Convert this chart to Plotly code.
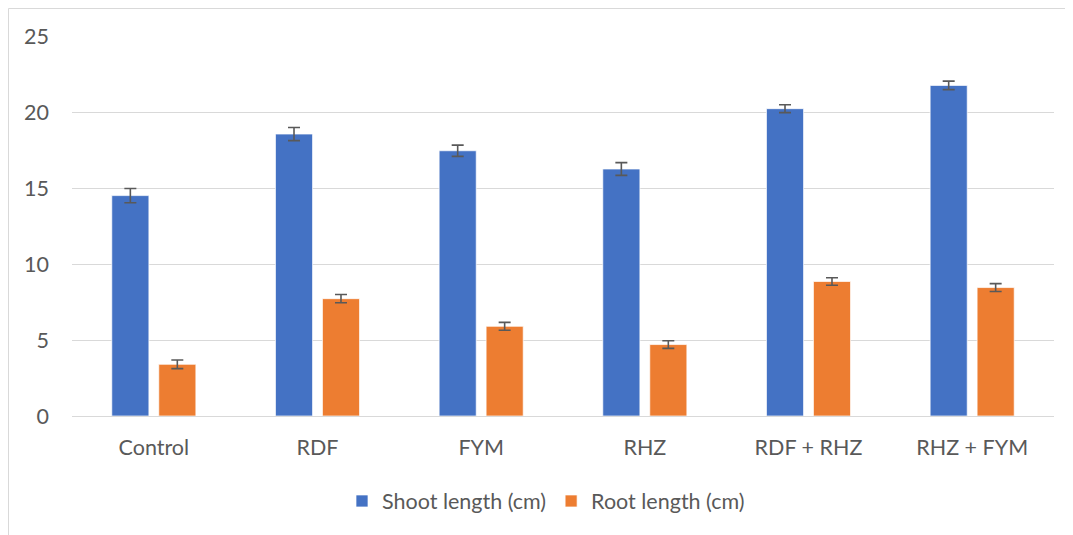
import plotly.graph_objects as go

categories = ["Control", "RDF", "FYM", "RHZ", "RDF + RHZ", "RHZ + FYM"]
shoot = [14.5, 18.55, 17.45, 16.25, 20.22, 21.75]
shoot_err = [0.47, 0.43, 0.37, 0.42, 0.26, 0.28]
root = [3.4, 7.72, 5.9, 4.7, 8.85, 8.45]
root_err = [0.28, 0.27, 0.26, 0.25, 0.25, 0.26]
y_ticks = [0, 5, 10, 15, 20, 25]

OFF = 8  # page body margin
W, H = 1073 - OFF, 535 - OFF
L, R, T, B = 72 - OFF, 19, 36 - OFF, 119
pw, ph = W - L - R, H - T - B

def px_x(x):
    return (x - OFF - L) / pw

def px_y(y):
    return (H - B - (y - OFF)) / ph

font = dict(family="Lato, 'Open Sans', sans-serif", size=21.5, color="#595959")
err_style = dict(type="data", thickness=1.6, width=6, color="#595959")

fig = go.Figure()
fig.add_trace(go.Bar(
    x=categories, y=shoot, name="Shoot length (cm)",
    marker=dict(color="#4472C4", line=dict(color="#ffffff", width=0.7)),
    error_y=dict(array=shoot_err, **err_style),
))
fig.add_trace(go.Bar(
    x=categories, y=root, name="Root length (cm)",
    marker=dict(color="#ED7D31", line=dict(color="#ffffff", width=0.7)),
    error_y=dict(array=root_err, **err_style),
))

fig.update_layout(
    width=W, height=H,
    margin=dict(l=L, r=R, t=T, b=B, autoexpand=False),
    paper_bgcolor="white", plot_bgcolor="white",
    font=font,
    barmode="group", bargap=0.426, bargroupgap=0.21,
    showlegend=True,
    legend=dict(
        orientation="h", x=px_x(546), xanchor="center",
        y=px_y(501), yanchor="middle",
        font=font, itemwidth=30, traceorder="normal",
    ),
    xaxis=dict(
        showgrid=False, showline=True, linecolor="#d9d9d9", linewidth=1.2,
        ticks="", ticklabelstandoff=12, tickfont=font,
    ),
    yaxis=dict(
        range=[0, 25], tickvals=y_ticks, showgrid=True, gridcolor="#d9d9d9",
        gridwidth=1.2, zeroline=False, showline=False, ticks="",
        ticklabelstandoff=22, tickfont=font,
    ),
    shapes=[dict(
        type="rect", xref="paper", yref="paper",
        x0=px_x(8.5), x1=px_x(1100),
        y0=px_y(560), y1=px_y(8.5),
        line=dict(color="#d9d9d9", width=1), fillcolor="rgba(0,0,0,0)",
        layer="below",
    )],
)

fig.write_html("out.html")
